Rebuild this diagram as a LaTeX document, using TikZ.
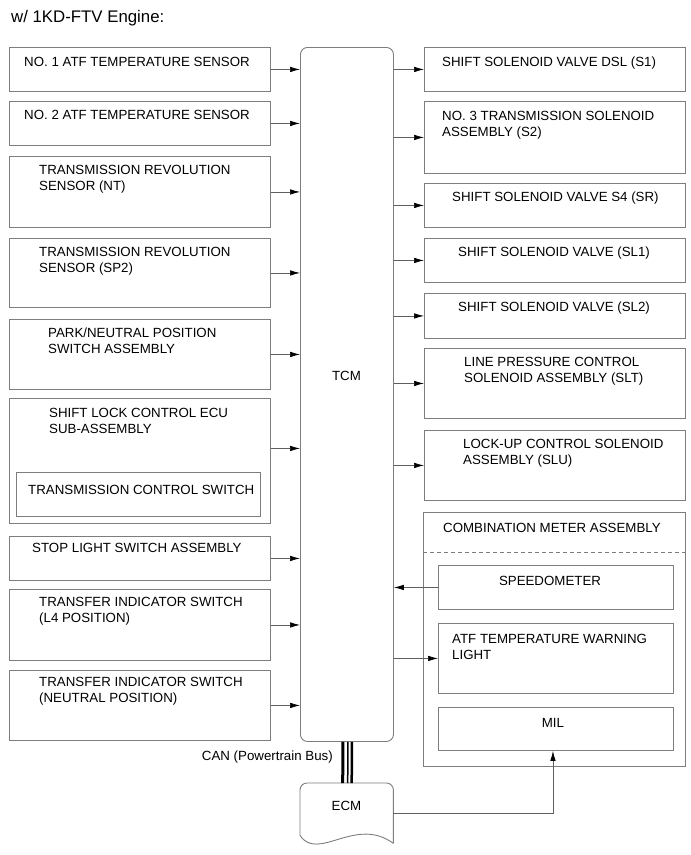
\documentclass[tikz,border=0pt]{standalone}
\usepackage{fontspec}
\setmainfont{Liberation Sans}
\usetikzlibrary{arrows.meta, positioning, calc}
\definecolor{boxgray}{RGB}{125,125,125}
\definecolor{wiregray}{RGB}{95,95,95}
\tikzset{
  unit/.style={rectangle, draw=boxgray, line width=0.9pt, anchor=north west, inner sep=0pt},
  txt/.style={anchor=base west, align=left, font=\fontsize{13.3}{16}\selectfont, inner sep=0pt},
  ctxt/.style={anchor=base, align=center, font=\fontsize{13.3}{16}\selectfont, inner sep=0pt},
  sig/.style={-{Latex[length=10pt,width=5.5pt,color=black]}, draw=wiregray, line width=0.7pt},
  bus/.style={draw=black, line cap=butt}
}

\begin{document}
\begin{tikzpicture}[x=1pt, y=-1pt]
  \useasboundingbox (0,0) rectangle (691,855);

  % Title
  \node[anchor=base west, inner sep=0pt, font=\fontsize{16.8}{19}\selectfont] (title) at (11,22) {w/ 1KD-FTV Engine:};

  % TCM
  \node[unit, rounded corners=7pt, minimum width=93pt, minimum height=694pt] (tcm) at (300,47) {};
  \node[ctxt] (tcmlbl) at (346.5,380) {TCM};

  % Inputs (two-line labels are placed by their last line)
  \node[unit, minimum width=261pt, minimum height=44pt] (in1) at (9,47) {};
  \node[txt] (in1t) at (24,66) {NO. 1 ATF TEMPERATURE SENSOR};
  \node[unit, minimum width=261pt, minimum height=44pt] (in2) at (9,101) {};
  \node[txt] (in2t) at (24,119) {NO. 2 ATF TEMPERATURE SENSOR};
  \node[unit, minimum width=261pt, minimum height=71pt] (in3) at (9,156) {};
  \node[txt] (in3t) at (39,190) {TRANSMISSION REVOLUTION\\SENSOR (NT)};
  \node[unit, minimum width=261pt, minimum height=69pt] (in4) at (9,238) {};
  \node[txt] (in4t) at (39,272) {TRANSMISSION REVOLUTION\\SENSOR (SP2)};
  \node[unit, minimum width=261pt, minimum height=70pt] (in5) at (9,319) {};
  \node[txt] (in5t) at (48,353) {PARK/NEUTRAL POSITION\\SWITCH ASSEMBLY};
  \node[unit, minimum width=261pt, minimum height=125pt] (in6) at (9,398) {};
  \node[txt] (in6t) at (49,433) {SHIFT LOCK CONTROL ECU\\SUB-ASSEMBLY};
  \node[unit, minimum width=244pt, minimum height=44pt] (tsw) at (16,472) {};
  \node[txt] (tswt) at (28,494) {TRANSMISSION CONTROL SWITCH};
  \node[unit, minimum width=261pt, minimum height=44pt] (in7) at (9,536) {};
  \node[txt] (in7t) at (32,552) {STOP LIGHT SWITCH ASSEMBLY};
  \node[unit, minimum width=261pt, minimum height=71pt] (in8) at (9,589) {};
  \node[txt] (in8t) at (39,622) {TRANSFER INDICATOR SWITCH\\(L4 POSITION)};
  \node[unit, minimum width=261pt, minimum height=70pt] (in9) at (9,670) {};
  \node[txt] (in9t) at (39,702) {TRANSFER INDICATOR SWITCH\\(NEUTRAL POSITION)};

  % Outputs
  \node[unit, minimum width=261pt, minimum height=44pt] (out1) at (424,47) {};
  \node[txt] (out1t) at (442,66) {SHIFT SOLENOID VALVE DSL (S1)};
  \node[unit, minimum width=261pt, minimum height=72pt] (out2) at (424,101) {};
  \node[txt] (out2t) at (442,136) {NO. 3 TRANSMISSION SOLENOID\\ASSEMBLY (S2)};
  \node[unit, minimum width=261pt, minimum height=44pt] (out3) at (424,183) {};
  \node[txt] (out3t) at (452,201) {SHIFT SOLENOID VALVE S4 (SR)};
  \node[unit, minimum width=261pt, minimum height=44pt] (out4) at (424,238) {};
  \node[txt] (out4t) at (458,256) {SHIFT SOLENOID VALVE (SL1)};
  \node[unit, minimum width=261pt, minimum height=45pt] (out5) at (424,293) {};
  \node[txt] (out5t) at (458,311) {SHIFT SOLENOID VALVE (SL2)};
  \node[unit, minimum width=261pt, minimum height=70pt] (out6) at (424,348) {};
  \node[txt] (out6t) at (464,382) {LINE PRESSURE CONTROL\\SOLENOID ASSEMBLY (SLT)};
  \node[unit, minimum width=261pt, minimum height=70pt] (out7) at (424,430) {};
  \node[txt] (out7t) at (463,464) {LOCK-UP CONTROL SOLENOID\\ASSEMBLY (SLU)};

  % Combination meter
  \node[unit, minimum width=262pt, minimum height=254pt] (comb) at (423,512) {};
  \node[txt] (combt) at (443,532) {COMBINATION METER ASSEMBLY};
  \draw[draw=boxgray, line width=0.9pt, dash pattern=on 4pt off 3pt]
    ([yshift=-40pt]comb.north west) -- ([yshift=-40pt]comb.north east);
  \node[unit, minimum width=235pt, minimum height=44pt] (speedo) at (438,565) {};
  \node[ctxt] (speedot) at (550,585) {SPEEDOMETER};
  \node[unit, minimum width=235pt, minimum height=70pt] (atf) at (438,623) {};
  \node[txt] (atft) at (452,659) {ATF TEMPERATURE WARNING\\LIGHT};
  \node[unit, minimum width=235pt, minimum height=43pt] (mil) at (438,707) {};
  \node[ctxt] (milt) at (553,727) {MIL};

  % ECM
  \node[anchor=north west, inner sep=0pt, minimum width=93pt, minimum height=60pt] (ecm) at (300,783) {};
  \draw[draw=boxgray, line width=0.9pt, rounded corners=7pt]
    ($(ecm.south west)+(0,-8)$) -- (ecm.north west) -- (ecm.north east) -- (ecm.south east);
  \draw[draw=boxgray, line width=0.9pt]
    (ecm.south east) .. controls ($(ecm.south east)+(-38,-28)$) and ($(ecm.south west)+(18,19)$) .. ($(ecm.south west)+(0,-8)$);
  \node[ctxt] (ecmt) at (346.5,810) {ECM};

  % CAN bus
  \draw[bus, line width=3pt] ([xshift=-4pt]tcm.south) -- ([xshift=-4pt]ecm.north);
  \draw[bus, line width=1.5pt] ([xshift=1pt]tcm.south) -- ([xshift=1pt]ecm.north);
  \draw[bus, line width=2.5pt] ([xshift=5pt]tcm.south) -- ([xshift=5pt]ecm.north);
  \node[txt, anchor=base east] (canlbl) at (333,760) {CAN (Powertrain Bus)};

  % Inputs to TCM
  \draw[sig] (in1.east) -- (in1.east -| tcm.west);
  \draw[sig] (in2.east) -- (in2.east -| tcm.west);
  \draw[sig] (in3.east) -- (in3.east -| tcm.west);
  \draw[sig] (in4.east) -- (in4.east -| tcm.west);
  \draw[sig] (in5.east) -- (in5.east -| tcm.west);
  \draw[sig] ([yshift=12.5pt]in6.east) -- ([yshift=12.5pt]in6.east -| tcm.west);
  \draw[sig] (in7.east) -- (in7.east -| tcm.west);
  \draw[sig] (in8.east) -- (in8.east -| tcm.west);
  \draw[sig] (in9.east) -- (in9.east -| tcm.west);

  % TCM to outputs
  \draw[sig] (out1.west -| tcm.east) -- (out1.west);
  \draw[sig] (out2.west -| tcm.east) -- (out2.west);
  \draw[sig] (out3.west -| tcm.east) -- (out3.west);
  \draw[sig] (out4.west -| tcm.east) -- (out4.west);
  \draw[sig] (out5.west -| tcm.east) -- (out5.west);
  \draw[sig] (out6.west -| tcm.east) -- (out6.west);
  \draw[sig] (out7.west -| tcm.east) -- (out7.west);

  % Meter
  \draw[sig] (speedo.west) -- (speedo.west -| tcm.east);
  \draw[sig] (atf.west -| tcm.east) -- (atf.west);
  \draw[sig] (ecm.east) -| ([xshift=-3pt]mil.south);

\end{tikzpicture}
\end{document}
